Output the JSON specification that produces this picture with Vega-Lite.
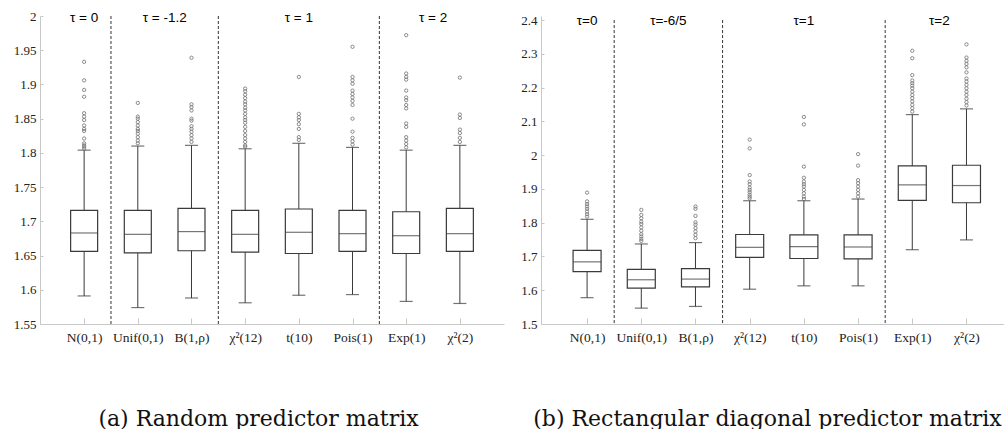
{
  "$schema": "https://vega.github.io/schema/vega-lite/v6.json",
  "background": "white",
  "padding": {"left": 13, "top": 10, "right": 0, "bottom": 0},
  "spacing": 16,
  "config": {
    "view": {"stroke": null},
    "axis": {
      "labelFont": "Liberation Serif",
      "labelFontSize": 13,
      "labelColor": "#222222",
      "labelOverlap": false,
      "labelFlush": false,
      "domainColor": "#c8c8c8",
      "tickColor": "#c8c8c8",
      "grid": false,
      "titleFont": "DejaVu Serif",
      "titleFontWeight": "normal",
      "titleFontSize": 22,
      "titleColor": "#111111"
    },
    "axisY": {
      "tickSize": -3,
      "labelPadding": 7,
      "format": "~g",
      "title": null
    }
  },
  "datasets": {
    "boxA": [
      {"idx": 1, "dist": "N(0,1)", "lo": 1.591, "q1": 1.656, "med": 1.683, "q3": 1.716, "hi": 1.804},
      {"idx": 2, "dist": "Unif(0,1)", "lo": 1.574, "q1": 1.654, "med": 1.681, "q3": 1.716, "hi": 1.810},
      {"idx": 3, "dist": "B(1,rho)", "lo": 1.588, "q1": 1.657, "med": 1.685, "q3": 1.719, "hi": 1.811},
      {"idx": 4, "dist": "chi2(12)", "lo": 1.581, "q1": 1.655, "med": 1.681, "q3": 1.716, "hi": 1.806},
      {"idx": 5, "dist": "t(10)", "lo": 1.592, "q1": 1.653, "med": 1.684, "q3": 1.718, "hi": 1.814},
      {"idx": 6, "dist": "Pois(1)", "lo": 1.593, "q1": 1.656, "med": 1.682, "q3": 1.716, "hi": 1.808},
      {"idx": 7, "dist": "Exp(1)", "lo": 1.583, "q1": 1.653, "med": 1.679, "q3": 1.714, "hi": 1.804},
      {"idx": 8, "dist": "chi2(2)", "lo": 1.580, "q1": 1.656, "med": 1.682, "q3": 1.719, "hi": 1.811}
    ],
    "outA": [
      {"idx": 1, "v": 1.933}, {"idx": 1, "v": 1.906}, {"idx": 1, "v": 1.892}, {"idx": 1, "v": 1.882},
      {"idx": 1, "v": 1.858}, {"idx": 1, "v": 1.853}, {"idx": 1, "v": 1.848}, {"idx": 1, "v": 1.840},
      {"idx": 1, "v": 1.835}, {"idx": 1, "v": 1.832}, {"idx": 1, "v": 1.821}, {"idx": 1, "v": 1.814},
      {"idx": 1, "v": 1.811}, {"idx": 1, "v": 1.809}, {"idx": 1, "v": 1.806},
      {"idx": 2, "v": 1.873}, {"idx": 2, "v": 1.853}, {"idx": 2, "v": 1.850}, {"idx": 2, "v": 1.845},
      {"idx": 2, "v": 1.840}, {"idx": 2, "v": 1.835}, {"idx": 2, "v": 1.832}, {"idx": 2, "v": 1.828},
      {"idx": 2, "v": 1.823}, {"idx": 2, "v": 1.818}, {"idx": 2, "v": 1.814},
      {"idx": 3, "v": 1.939}, {"idx": 3, "v": 1.871}, {"idx": 3, "v": 1.867}, {"idx": 3, "v": 1.862},
      {"idx": 3, "v": 1.850}, {"idx": 3, "v": 1.847}, {"idx": 3, "v": 1.839}, {"idx": 3, "v": 1.835},
      {"idx": 3, "v": 1.831}, {"idx": 3, "v": 1.826}, {"idx": 3, "v": 1.821}, {"idx": 3, "v": 1.816},
      {"idx": 4, "v": 1.894}, {"idx": 4, "v": 1.890}, {"idx": 4, "v": 1.885}, {"idx": 4, "v": 1.880},
      {"idx": 4, "v": 1.875}, {"idx": 4, "v": 1.871}, {"idx": 4, "v": 1.866}, {"idx": 4, "v": 1.862},
      {"idx": 4, "v": 1.857}, {"idx": 4, "v": 1.852}, {"idx": 4, "v": 1.848}, {"idx": 4, "v": 1.844},
      {"idx": 4, "v": 1.838}, {"idx": 4, "v": 1.832}, {"idx": 4, "v": 1.826}, {"idx": 4, "v": 1.821},
      {"idx": 4, "v": 1.816}, {"idx": 4, "v": 1.811}, {"idx": 4, "v": 1.809},
      {"idx": 5, "v": 1.911}, {"idx": 5, "v": 1.857}, {"idx": 5, "v": 1.852}, {"idx": 5, "v": 1.848},
      {"idx": 5, "v": 1.842}, {"idx": 5, "v": 1.835}, {"idx": 5, "v": 1.823}, {"idx": 5, "v": 1.819},
      {"idx": 6, "v": 1.955}, {"idx": 6, "v": 1.911}, {"idx": 6, "v": 1.906}, {"idx": 6, "v": 1.901},
      {"idx": 6, "v": 1.891}, {"idx": 6, "v": 1.886}, {"idx": 6, "v": 1.881}, {"idx": 6, "v": 1.876},
      {"idx": 6, "v": 1.870}, {"idx": 6, "v": 1.850}, {"idx": 6, "v": 1.831}, {"idx": 6, "v": 1.822},
      {"idx": 6, "v": 1.817}, {"idx": 6, "v": 1.812},
      {"idx": 7, "v": 1.972}, {"idx": 7, "v": 1.916}, {"idx": 7, "v": 1.911}, {"idx": 7, "v": 1.907},
      {"idx": 7, "v": 1.891}, {"idx": 7, "v": 1.881}, {"idx": 7, "v": 1.877}, {"idx": 7, "v": 1.870},
      {"idx": 7, "v": 1.865}, {"idx": 7, "v": 1.843}, {"idx": 7, "v": 1.838}, {"idx": 7, "v": 1.823},
      {"idx": 7, "v": 1.818}, {"idx": 7, "v": 1.813}, {"idx": 7, "v": 1.808},
      {"idx": 8, "v": 1.910}, {"idx": 8, "v": 1.856}, {"idx": 8, "v": 1.851}, {"idx": 8, "v": 1.834},
      {"idx": 8, "v": 1.829}, {"idx": 8, "v": 1.822}, {"idx": 8, "v": 1.816}
    ],
    "sepA": [{"idx": 1.5}, {"idx": 3.5}, {"idx": 6.5}],
    "tauA": [
      {"idx": 1, "label": "τ = 0"},
      {"idx": 2.5, "label": "τ = -1.2"},
      {"idx": 5, "label": "τ = 1"},
      {"idx": 7.5, "label": "τ = 2"}
    ],
    "boxB": [
      {"idx": 1, "dist": "N(0,1)", "lo": 1.578, "q1": 1.655, "med": 1.684, "q3": 1.718, "hi": 1.810},
      {"idx": 2, "dist": "Unif(0,1)", "lo": 1.547, "q1": 1.606, "med": 1.631, "q3": 1.662, "hi": 1.737},
      {"idx": 3, "dist": "B(1,rho)", "lo": 1.552, "q1": 1.610, "med": 1.633, "q3": 1.664, "hi": 1.741},
      {"idx": 4, "dist": "chi2(12)", "lo": 1.603, "q1": 1.697, "med": 1.727, "q3": 1.765, "hi": 1.865},
      {"idx": 5, "dist": "t(10)", "lo": 1.613, "q1": 1.694, "med": 1.729, "q3": 1.764, "hi": 1.865},
      {"idx": 6, "dist": "Pois(1)", "lo": 1.613, "q1": 1.693, "med": 1.728, "q3": 1.764, "hi": 1.870},
      {"idx": 7, "dist": "Exp(1)", "lo": 1.720, "q1": 1.866, "med": 1.912, "q3": 1.968, "hi": 2.120},
      {"idx": 8, "dist": "chi2(2)", "lo": 1.749, "q1": 1.859, "med": 1.910, "q3": 1.970, "hi": 2.137}
    ],
    "outB": [
      {"idx": 1, "v": 1.889}, {"idx": 1, "v": 1.863}, {"idx": 1, "v": 1.855}, {"idx": 1, "v": 1.848},
      {"idx": 1, "v": 1.841}, {"idx": 1, "v": 1.833}, {"idx": 1, "v": 1.825}, {"idx": 1, "v": 1.818},
      {"idx": 2, "v": 1.838}, {"idx": 2, "v": 1.823}, {"idx": 2, "v": 1.813}, {"idx": 2, "v": 1.803},
      {"idx": 2, "v": 1.796}, {"idx": 2, "v": 1.786}, {"idx": 2, "v": 1.776}, {"idx": 2, "v": 1.766},
      {"idx": 2, "v": 1.759}, {"idx": 2, "v": 1.752}, {"idx": 2, "v": 1.746},
      {"idx": 3, "v": 1.848}, {"idx": 3, "v": 1.841}, {"idx": 3, "v": 1.820}, {"idx": 3, "v": 1.801},
      {"idx": 3, "v": 1.794}, {"idx": 3, "v": 1.784}, {"idx": 3, "v": 1.774}, {"idx": 3, "v": 1.764},
      {"idx": 3, "v": 1.754},
      {"idx": 4, "v": 2.046}, {"idx": 4, "v": 2.020}, {"idx": 4, "v": 1.941}, {"idx": 4, "v": 1.922},
      {"idx": 4, "v": 1.914}, {"idx": 4, "v": 1.904}, {"idx": 4, "v": 1.897}, {"idx": 4, "v": 1.890},
      {"idx": 4, "v": 1.883}, {"idx": 4, "v": 1.877}, {"idx": 4, "v": 1.872},
      {"idx": 5, "v": 2.113}, {"idx": 5, "v": 2.091}, {"idx": 5, "v": 1.966}, {"idx": 5, "v": 1.933},
      {"idx": 5, "v": 1.922}, {"idx": 5, "v": 1.914}, {"idx": 5, "v": 1.907}, {"idx": 5, "v": 1.897},
      {"idx": 5, "v": 1.887}, {"idx": 5, "v": 1.877}, {"idx": 5, "v": 1.870},
      {"idx": 6, "v": 2.003}, {"idx": 6, "v": 1.969}, {"idx": 6, "v": 1.926}, {"idx": 6, "v": 1.917},
      {"idx": 6, "v": 1.907}, {"idx": 6, "v": 1.897}, {"idx": 6, "v": 1.887}, {"idx": 6, "v": 1.877},
      {"idx": 7, "v": 2.309}, {"idx": 7, "v": 2.287}, {"idx": 7, "v": 2.237}, {"idx": 7, "v": 2.221},
      {"idx": 7, "v": 2.213}, {"idx": 7, "v": 2.206}, {"idx": 7, "v": 2.198}, {"idx": 7, "v": 2.188},
      {"idx": 7, "v": 2.178}, {"idx": 7, "v": 2.169}, {"idx": 7, "v": 2.159}, {"idx": 7, "v": 2.149},
      {"idx": 7, "v": 2.139}, {"idx": 7, "v": 2.129},
      {"idx": 8, "v": 2.328}, {"idx": 8, "v": 2.289}, {"idx": 8, "v": 2.279}, {"idx": 8, "v": 2.270},
      {"idx": 8, "v": 2.260}, {"idx": 8, "v": 2.245}, {"idx": 8, "v": 2.227}, {"idx": 8, "v": 2.218},
      {"idx": 8, "v": 2.208}, {"idx": 8, "v": 2.198}, {"idx": 8, "v": 2.188}, {"idx": 8, "v": 2.178},
      {"idx": 8, "v": 2.167}, {"idx": 8, "v": 2.157}, {"idx": 8, "v": 2.147}
    ],
    "sepB": [{"idx": 1.5}, {"idx": 3.5}, {"idx": 6.5}],
    "tauB": [
      {"idx": 1, "label": "τ=0"},
      {"idx": 2.5, "label": "τ=-6/5"},
      {"idx": 5, "label": "τ=1"},
      {"idx": 7.5, "label": "τ=2"}
    ]
  },
  "hconcat": [
    {
      "width": 464,
      "height": 308,
      "encoding": {
        "x": {
          "field": "idx",
          "type": "quantitative",
          "scale": {"domain": [0.271, 8.729], "nice": false, "zero": false},
          "axis": {
            "values": [1, 2, 3, 4, 5, 6, 7, 8],
            "labelExpr": "['N(0,1)','Unif(0,1)','B(1,ρ)','χ²(12)','t(10)','Pois(1)','Exp(1)','χ²(2)'][datum.value-1]",
            "tickSize": -6,
            "labelPadding": 12,
            "labelFontSize": 13.5,
            "title": "(a) Random predictor matrix",
            "titleAnchor": null,
            "titleAlign": "center",
            "titleBaseline": "alphabetic",
            "titleX": 218,
            "titleY": 101
          }
        }
      },
      "layer": [
        {
          "data": {"name": "sepA"},
          "mark": {"type": "rule", "color": "#333333", "strokeDash": [3, 2], "strokeWidth": 1},
          "encoding": {
            "y": {"datum": 2.0, "type": "quantitative", "scale": {"domain": [1.55, 2.0], "nice": false, "zero": false}, "axis": {"values": [1.55, 1.6, 1.65, 1.7, 1.75, 1.8, 1.85, 1.9, 1.95, 2.0], "labelOverlap": false}},
            "y2": {"datum": 1.55}
          }
        },
        {
          "data": {"name": "boxA"},
          "mark": {"type": "rule", "color": "#3a3a3a", "strokeWidth": 1},
          "encoding": {
            "y": {"field": "lo", "type": "quantitative", "scale": {"domain": [1.55, 2.0], "nice": false, "zero": false}, "axis": {"values": [1.55, 1.6, 1.65, 1.7, 1.75, 1.8, 1.85, 1.9, 1.95, 2.0], "labelOverlap": false}},
            "y2": {"field": "hi"}
          }
        },
        {
          "data": {"name": "boxA"},
          "mark": {"type": "bar", "size": 27, "fill": "white", "stroke": "#3a3a3a", "strokeWidth": 1.2},
          "encoding": {
            "y": {"field": "q1", "type": "quantitative", "scale": {"domain": [1.55, 2.0], "nice": false, "zero": false}, "axis": {"values": [1.55, 1.6, 1.65, 1.7, 1.75, 1.8, 1.85, 1.9, 1.95, 2.0], "labelOverlap": false}},
            "y2": {"field": "q3"}
          }
        },
        {
          "data": {"name": "boxA"},
          "mark": {"type": "tick", "orient": "horizontal", "size": 27, "thickness": 1.2, "color": "#3a3a3a"},
          "encoding": {"y": {"field": "med", "type": "quantitative", "scale": {"domain": [1.55, 2.0], "nice": false, "zero": false}, "axis": {"values": [1.55, 1.6, 1.65, 1.7, 1.75, 1.8, 1.85, 1.9, 1.95, 2.0], "labelOverlap": false}}}
        },
        {
          "data": {"name": "boxA"},
          "mark": {"type": "tick", "orient": "horizontal", "size": 13, "thickness": 1.2, "color": "#3a3a3a"},
          "encoding": {"y": {"field": "lo", "type": "quantitative", "scale": {"domain": [1.55, 2.0], "nice": false, "zero": false}, "axis": {"values": [1.55, 1.6, 1.65, 1.7, 1.75, 1.8, 1.85, 1.9, 1.95, 2.0], "labelOverlap": false}}}
        },
        {
          "data": {"name": "boxA"},
          "mark": {"type": "tick", "orient": "horizontal", "size": 13, "thickness": 1.2, "color": "#3a3a3a"},
          "encoding": {"y": {"field": "hi", "type": "quantitative", "scale": {"domain": [1.55, 2.0], "nice": false, "zero": false}, "axis": {"values": [1.55, 1.6, 1.65, 1.7, 1.75, 1.8, 1.85, 1.9, 1.95, 2.0], "labelOverlap": false}}}
        },
        {
          "data": {"name": "outA"},
          "mark": {"type": "point", "filled": false, "size": 11, "stroke": "#707070", "strokeWidth": 0.8, "opacity": 1},
          "encoding": {"y": {"field": "v", "type": "quantitative", "scale": {"domain": [1.55, 2.0], "nice": false, "zero": false}, "axis": {"values": [1.55, 1.6, 1.65, 1.7, 1.75, 1.8, 1.85, 1.9, 1.95, 2.0], "labelOverlap": false}}}
        },
        {
          "data": {"name": "tauA"},
          "mark": {"type": "text", "font": "Liberation Sans", "fontSize": 13.5, "color": "#000000", "baseline": "middle", "align": "center"},
          "encoding": {
            "y": {"datum": 1.997, "type": "quantitative", "scale": {"domain": [1.55, 2.0], "nice": false, "zero": false}, "axis": {"values": [1.55, 1.6, 1.65, 1.7, 1.75, 1.8, 1.85, 1.9, 1.95, 2.0], "labelOverlap": false}},
            "text": {"field": "label"}
          }
        }
      ]
    },
    {
      "width": 463,
      "height": 308,
      "encoding": {
        "x": {
          "field": "idx",
          "type": "quantitative",
          "scale": {"domain": [0.242, 8.6], "nice": false, "zero": false},
          "axis": {
            "values": [1, 2, 3, 4, 5, 6, 7, 8],
            "labelExpr": "['N(0,1)','Unif(0,1)','B(1,ρ)','χ²(12)','t(10)','Pois(1)','Exp(1)','χ²(2)'][datum.value-1]",
            "tickSize": -6,
            "labelPadding": 12,
            "labelFontSize": 13.5,
            "title": "(b) Rectangular diagonal predictor matrix",
            "titleAnchor": null,
            "titleAlign": "center",
            "titleBaseline": "alphabetic",
            "titleX": 226,
            "titleY": 101
          }
        }
      },
      "layer": [
        {
          "data": {"name": "sepB"},
          "mark": {"type": "rule", "color": "#333333", "strokeDash": [3, 2], "strokeWidth": 1},
          "encoding": {
            "y": {"datum": 2.4, "type": "quantitative", "scale": {"domain": [1.5, 2.412], "nice": false, "zero": false}, "axis": {"values": [1.5, 1.6, 1.7, 1.8, 1.9, 2.0, 2.1, 2.2, 2.3, 2.4], "labelOverlap": false}},
            "y2": {"datum": 1.5}
          }
        },
        {
          "data": {"name": "boxB"},
          "mark": {"type": "rule", "color": "#3a3a3a", "strokeWidth": 1},
          "encoding": {
            "y": {"field": "lo", "type": "quantitative", "scale": {"domain": [1.5, 2.412], "nice": false, "zero": false}, "axis": {"values": [1.5, 1.6, 1.7, 1.8, 1.9, 2.0, 2.1, 2.2, 2.3, 2.4], "labelOverlap": false}},
            "y2": {"field": "hi"}
          }
        },
        {
          "data": {"name": "boxB"},
          "mark": {"type": "bar", "size": 28, "fill": "white", "stroke": "#3a3a3a", "strokeWidth": 1.2},
          "encoding": {
            "y": {"field": "q1", "type": "quantitative", "scale": {"domain": [1.5, 2.412], "nice": false, "zero": false}, "axis": {"values": [1.5, 1.6, 1.7, 1.8, 1.9, 2.0, 2.1, 2.2, 2.3, 2.4], "labelOverlap": false}},
            "y2": {"field": "q3"}
          }
        },
        {
          "data": {"name": "boxB"},
          "mark": {"type": "tick", "orient": "horizontal", "size": 28, "thickness": 1.2, "color": "#3a3a3a"},
          "encoding": {"y": {"field": "med", "type": "quantitative", "scale": {"domain": [1.5, 2.412], "nice": false, "zero": false}, "axis": {"values": [1.5, 1.6, 1.7, 1.8, 1.9, 2.0, 2.1, 2.2, 2.3, 2.4], "labelOverlap": false}}}
        },
        {
          "data": {"name": "boxB"},
          "mark": {"type": "tick", "orient": "horizontal", "size": 13, "thickness": 1.2, "color": "#3a3a3a"},
          "encoding": {"y": {"field": "lo", "type": "quantitative", "scale": {"domain": [1.5, 2.412], "nice": false, "zero": false}, "axis": {"values": [1.5, 1.6, 1.7, 1.8, 1.9, 2.0, 2.1, 2.2, 2.3, 2.4], "labelOverlap": false}}}
        },
        {
          "data": {"name": "boxB"},
          "mark": {"type": "tick", "orient": "horizontal", "size": 13, "thickness": 1.2, "color": "#3a3a3a"},
          "encoding": {"y": {"field": "hi", "type": "quantitative", "scale": {"domain": [1.5, 2.412], "nice": false, "zero": false}, "axis": {"values": [1.5, 1.6, 1.7, 1.8, 1.9, 2.0, 2.1, 2.2, 2.3, 2.4], "labelOverlap": false}}}
        },
        {
          "data": {"name": "outB"},
          "mark": {"type": "point", "filled": false, "size": 11, "stroke": "#707070", "strokeWidth": 0.8, "opacity": 1},
          "encoding": {"y": {"field": "v", "type": "quantitative", "scale": {"domain": [1.5, 2.412], "nice": false, "zero": false}, "axis": {"values": [1.5, 1.6, 1.7, 1.8, 1.9, 2.0, 2.1, 2.2, 2.3, 2.4], "labelOverlap": false}}}
        },
        {
          "data": {"name": "tauB"},
          "mark": {"type": "text", "font": "Liberation Sans", "fontSize": 13.5, "color": "#000000", "baseline": "middle", "align": "center"},
          "encoding": {
            "y": {"datum": 2.397, "type": "quantitative", "scale": {"domain": [1.5, 2.412], "nice": false, "zero": false}, "axis": {"values": [1.5, 1.6, 1.7, 1.8, 1.9, 2.0, 2.1, 2.2, 2.3, 2.4], "labelOverlap": false}},
            "text": {"field": "label"}
          }
        }
      ]
    }
  ]
}
